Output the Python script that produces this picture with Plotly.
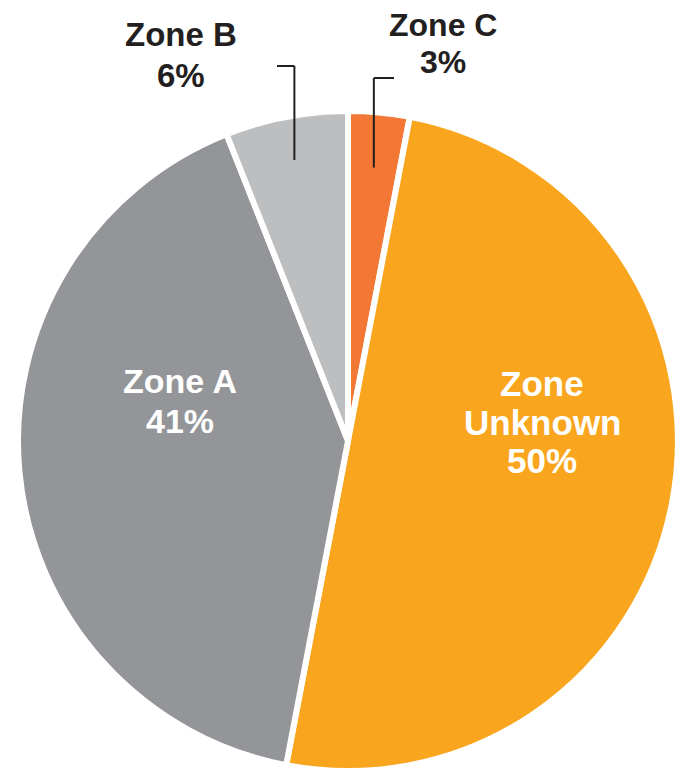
import math
import plotly.graph_objects as go

# ---- data ----
zones = ["Zone C", "Zone Unknown", "Zone A", "Zone B"]
shares = [3, 50, 41, 6]
colors = ["#F37735", "#F9A61E", "#939598", "#BCBEC0"]

# ---- layout geometry (window pixels; page body has an 8px margin) ----
OX, OY = 8, 8
W, H = 684 - OX, 771 - OY
CX, CY, R = 348, 441, 330

def px(x):
    return (x - OX) / W

def py(y):
    return 1 - (y - OY) / H

fig = go.Figure(go.Pie(
    labels=zones,
    values=shares,
    sort=False,
    direction="clockwise",
    rotation=0,
    marker=dict(colors=colors, line=dict(color="white", width=6)),
    textinfo="none",
    hoverinfo="label+percent",
    showlegend=False,
    domain=dict(x=[px(CX - R), px(CX + R)], y=[max(0, py(CY + R)), py(CY - R)]),
))

FONT = "Liberation Sans, Arial, sans-serif"
DARK = "#231F20"

# label lines: (text, x px, y px, color, size)
label_lines = [
    ("<b>Zone A</b>", 180, 381, "white", 34),
    ("<b>41%</b>", 180, 421, "white", 34),
    ("<b>Zone</b>", 542, 383, "white", 35),
    ("<b>Unknown</b>", 542, 422, "white", 35),
    ("<b>50%</b>", 542, 460, "white", 35),
    ("<b>Zone B</b>", 181, 35, DARK, 33),
    ("<b>6%</b>", 181, 75, DARK, 33),
    ("<b>Zone C</b>", 443, 25, DARK, 32),
    ("<b>3%</b>", 443, 62, DARK, 32),
]
annotations = []
for t, x, y, c, s in label_lines:
    annotations.append(dict(
        text=t, x=px(x), y=py(y), xref="paper", yref="paper",
        xanchor="center", yanchor="middle", showarrow=False,
        font=dict(family=FONT, size=s, color=c),
    ))

# leader lines for the small outside-labelled slices, anchored at slice mid-angle
total = sum(shares)
cum = 0
mids = {}
for z, v in zip(zones, shares):
    mids[z] = (cum + v / 2) / total * 2 * math.pi
    cum += v

leaders = {  # zone: (radius fraction, top y px, horizontal end x px)
    "Zone B": (0.875, 66, 277),
    "Zone C": (0.84, 78, 394),
}
shapes = []
for z, (f, ty, hx) in leaders.items():
    a = mids[z]
    bx = CX + f * (R - 3) * math.sin(a)
    by = CY - f * (R - 3) * math.cos(a)
    shapes.append(dict(type="line", xref="paper", yref="paper",
                       x0=px(bx), y0=py(by), x1=px(bx), y1=py(ty),
                       line=dict(color=DARK, width=2)))
    shapes.append(dict(type="line", xref="paper", yref="paper",
                       x0=px(bx), y0=py(ty), x1=px(hx), y1=py(ty),
                       line=dict(color=DARK, width=2)))

fig.update_layout(
    width=W, height=H,
    margin=dict(l=0, r=0, t=0, b=0),
    paper_bgcolor="white",
    plot_bgcolor="white",
    annotations=annotations,
    shapes=shapes,
)

fig.write_html("out.html")
